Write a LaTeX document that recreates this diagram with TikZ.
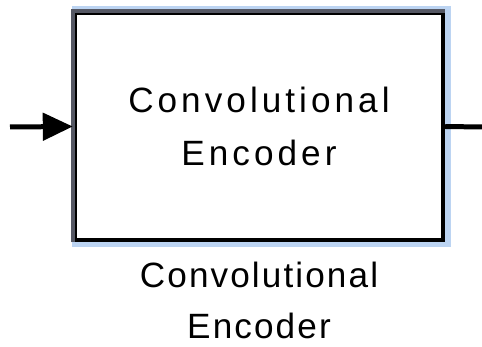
\documentclass[tikz,border=0pt]{standalone}
\usepackage{fontspec}
\usepackage{tikz}
\usetikzlibrary{arrows.meta}
\usetikzlibrary{positioning}
\newfontfamily\boxfont[LetterSpace=11.5]{Liberation Sans}
\newfontfamily\labelfont[LetterSpace=6]{Liberation Sans}
\definecolor{halo}{RGB}{188,212,242}
\definecolor{edgegray}{RGB}{85,88,100}

\begin{document}
\begin{tikzpicture}[x=0.02cm, y=-0.02cm,
    block/.style={draw=black, fill=white, line width=0.08cm,
      minimum width=7.37cm, minimum height=4.56cm, align=center,
      font=\boxfont\fontsize{20}{30.2}\selectfont},
    blocklabel/.style={align=center, inner sep=0pt,
      font=\labelfont\fontsize{20}{29}\selectfont},
    wire/.style={line width=0.1cm}]
      \useasboundingbox (0, 0) rectangle (482, 347);

      \fill[halo] (72, 6) rectangle (451, 247);
      \node[block] (enc) at (259, 126.5) {Convolutional\\Encoder};
      \draw[edgegray, line width=0.08cm] (enc.south west) -- (enc.north west) -- (enc.north east);

      \node[blocklabel, below=0.38cm of enc] (enclabel) {Convolutional\\Encoder};

      \coordinate (in) at (10, 127);
      \coordinate (out) at (482, 127);

      \draw[wire, -{Triangle[length=0.6cm, width=0.54cm]}] (in) -- (enc.west);
      \draw[wire] (enc.east) -- (out);
    \end{tikzpicture}
\end{document}
